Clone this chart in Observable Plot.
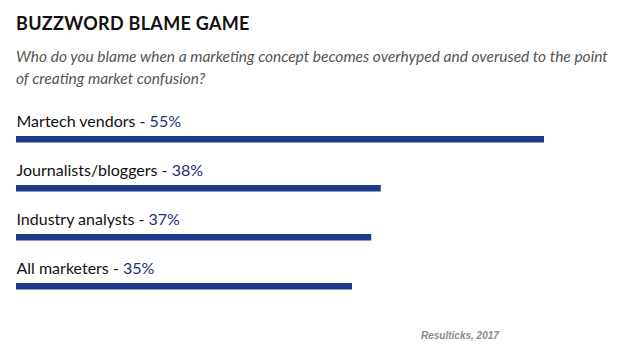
<!DOCTYPE html>
<html>
<head>
<meta charset="utf-8">
<script src="https://cdn.jsdelivr.net/npm/d3@7"></script>
<script src="https://cdn.jsdelivr.net/npm/@observablehq/plot@0.6"></script>
<style>
  html, body { margin: 0; padding: 0; background: #fff; }
  body { width: 630px; height: 357px; position: relative; overflow: hidden; font-family: Lato, "Open Sans", sans-serif; }
  #title { position: absolute; left: 16px; top: 12px; font-size: 18px; font-weight: 700; color: #111; letter-spacing: 0.3px; line-height: 22px; }
  #subtitle { position: absolute; left: 16px; top: 45px; font-size: 15.5px; font-style: italic; color: #555; line-height: 22px; white-space: nowrap; }
  #chart { position: absolute; left: 0; top: 100px; }
  #caption { position: absolute; left: 421px; top: 330px; font-family: "Liberation Sans", Arial, sans-serif; font-size: 10px; font-weight: 700; font-style: italic; color: #8a8a8a; }
</style>
</head>
<body>
<div id="title">BUZZWORD BLAME GAME</div>
<div id="subtitle">Who do you blame when a marketing concept becomes overhyped and overused to the point<br>of creating market confusion?</div>
<div id="chart"></div>
<div id="caption">Resulticks, 2017</div>
<script>
const categories = ["Martech vendors", "Journalists/bloggers", "Industry analysts", "All marketers"];
const values = [55, 38, 37, 35];

const data = categories.map((c, i) => ({category: c, value: values[i]}));

const barColor = "#1e3a8a";
const pctColor = "#1f2d7b";

const plot = Plot.plot({
  width: 630,
  height: 208,
  marginTop: 10,
  marginBottom: 0,
  marginLeft: 16,
  marginRight: 86,
  x: {domain: [0, 55], axis: null},
  y: {domain: categories, axis: null, padding: 0},
  style: {fontFamily: "Lato, 'Open Sans', sans-serif", background: "transparent"},
  marks: [
    Plot.barX(data, {x: "value", y: "category", fill: barColor, insetTop: 25, insetBottom: 17.5}),
    Plot.text(data, {
      x: 0, y: "category",
      text: d => d.category + " - " + d.value + "%",
      textAnchor: "start", lineAnchor: "bottom", dy: -9.5,
      fontSize: 16, fill: "#111"
    })
  ]
});

// split label into name (black) and value (navy)
d3.select(plot).selectAll("g[aria-label='text'] text").each(function(_, i) {
  const d = data[i];
  const t = d3.select(this);
  t.text(null);
  t.append("tspan").text(d.category + " - ");
  t.append("tspan").attr("fill", pctColor).text(d.value + "%");
});

document.getElementById("chart").appendChild(plot);
</script>
</body>
</html>
